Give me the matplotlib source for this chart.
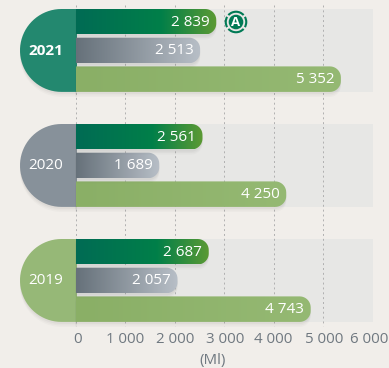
import numpy as np
import matplotlib
matplotlib.use('Agg')
import matplotlib.pyplot as plt
from matplotlib.colors import LinearSegmentedColormap
from matplotlib.patches import Polygon, Circle, Wedge
from matplotlib.transforms import ScaledTranslation

years = ['2021', '2020', '2019']
green_vals = [2839, 2561, 2687]
gray_vals = [2513, 1689, 2057]
light_vals = [5352, 4250, 4743]
ticks = [0, 1000, 2000, 3000, 4000, 5000, 6000]
tick_labels = ['0', '1 000', '2 000', '3 000', '4 000', '5 000', '6 000']
cap_colors = ['#23886f', '#87919a', '#96b877']

plt.rcParams['font.family'] = ['Open Sans', 'DejaVu Sans']
bg = '#f1eeea'
W, H = 389, 368
x0, x1 = 75.5, 373
per_px = 6000 / (x1 - x0)
bottom = 328

fig = plt.figure(figsize=(W / 100, H / 100), dpi=100, facecolor=bg)
# y axis runs in pixels, x axis is the real scale
ax = fig.add_axes([x0 / W, (H - bottom) / H, (x1 - x0) / W, bottom / H])
ax.set_facecolor(bg)
for s in ax.spines.values():
    s.set_visible(False)
ax.get_yaxis().set_visible(False)
ax.set_xticks(ticks)
ax.set_xticklabels(tick_labels, fontsize=10.8, color='#6f7880')
ax.tick_params(axis='x', length=0, pad=3)
# first and last label sit a little off their ticks
for lab, dx in zip(ax.get_xticklabels(), [2.5, 0, 1, 0.5, -1, 0.5, -4]):
    lab.set_transform(lab.get_transform() + ScaledTranslation(dx / 100, 0, fig.dpi_scale_trans))

tops = [9, 124, 239]
bar_h = 25.5
offs = [0, 28.7, 57.4]

green = LinearSegmentedColormap.from_list('g', [(0, '#006b54'), (0.6, '#007f49'), (1, '#5c9a34')])
gray = LinearSegmentedColormap.from_list('h', ['#66717a', '#b8bfc7'])
light = LinearSegmentedColormap.from_list('l', ['#8aaf66', '#95b973'])


def bar_path(val, top, h, r):
    # bar with round right end, x in data and y in px
    rx = r * per_px
    t = np.linspace(-np.pi / 2, 0, 12)
    xs = [0] + list(val - rx + rx * np.cos(t)) + list(val - rx + rx * np.cos(t[::-1]))
    xs = xs + [0]
    ys = [top] + list(top + r + r * np.sin(t)) + list(top + h - r - r * np.sin(t[::-1]))
    ys = ys + [top + h]
    return np.column_stack([xs, ys])


def shadow(pts, z):
    for d, a in [(5, 0.03), (3.5, 0.04), (2, 0.05)]:
        ax.add_patch(Polygon(pts + [0, d], closed=True, fc='#555555', ec='none', alpha=a, zorder=z, clip_on=False))


def grad_bar(val, top, h, cmap, z):
    pts = bar_path(val, top, h, 11)
    shadow(pts, z)
    im = ax.imshow(np.linspace(0, 1, 256).reshape(1, -1), cmap=cmap, aspect='auto',
                   extent=[0, val, top + h, top], zorder=z + 0.1, vmin=0, vmax=1)
    p = Polygon(pts, closed=True, fc='none', ec='none', transform=ax.transData)
    ax.add_patch(p)
    im.set_clip_path(p)


for i, y in enumerate(years):
    top = tops[i]
    full = offs[2] + bar_h
    ax.fill_between([0, 6000], top, top + full, color='#e7e7e5', lw=0, zorder=1)
    # year cap on the left, runs a bit under the bars to hide the seam
    r = full / 2
    rx = r * per_px
    t = np.linspace(np.pi / 2, 3 * np.pi / 2, 40)
    cap = np.column_stack([np.r_[30, -(x0 - 20 - r) * per_px + rx * np.cos(t), 30],
                           np.r_[top + full, top + r + r * np.sin(t), top]])
    shadow(cap, 2)
    ax.add_patch(Polygon(cap, closed=True, fc=cap_colors[i], ec='none', zorder=3, clip_on=False))
    ax.text(-(x0 - 46) * per_px, top + r + 0.5, y, color='white', fontsize=11,
            fontweight='bold' if i == 0 else 'normal', ha='center', va='center', zorder=6)

    grad_bar(light_vals[i], top + offs[2], bar_h, light, 3)
    grad_bar(gray_vals[i], top + offs[1], bar_h, gray, 3.3)
    grad_bar(green_vals[i], top + offs[0], bar_h, green, 3.6)
    for val, off in zip([green_vals[i], gray_vals[i], light_vals[i]], offs):
        lab = f'{val:,}'.replace(',', ' ')
        ax.text(val - 6.5 * per_px, top + off + bar_h / 2 + 0.5, lab, color='white', fontsize=11,
                ha='right', va='center', zorder=6)

ax.vlines(ticks, 5, 326, color='#b0b0b0', lw=0.7, linestyles=(0, (2, 3)), zorder=2)
ax.set_ylim(bottom, 0)
ax.set_xlim(0, 6000)
ax.text((213 - x0) * per_px, 360.5, '(Ml)', color='#6f7880', fontsize=10.8, ha='center', va='center', clip_on=False)

# badge next to the 2021 bar
ovl = fig.add_axes([0, 0, 1, 1], facecolor='none')
ovl.set_xlim(0, W)
ovl.set_ylim(H, 0)
ovl.axis('off')
cx, cy = 236, 22
for a, b in [(-30, 30), (42, 138), (150, 210), (222, 318)]:
    ovl.add_patch(Wedge((cx, cy), 11.3, a, b, width=2.1, fc='#007a55', ec='none'))
ovl.add_patch(Circle((cx, cy), 7.3, fc='#007a55', ec='none'))
ovl.text(cx, cy + 0.3, 'A', color='white', fontsize=9.5, fontweight='bold', ha='center', va='center')

fig.savefig('out.png', dpi=100, facecolor=bg)
